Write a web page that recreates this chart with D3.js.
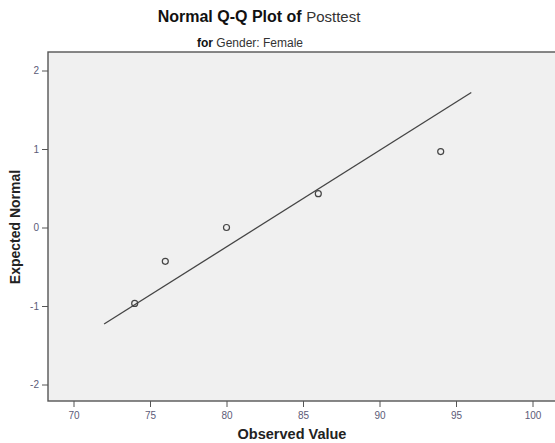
<!DOCTYPE html>
<html>
<head>
<meta charset="utf-8">
<script src="https://cdn.jsdelivr.net/npm/d3@7"></script>
<style>
  body { margin: 0; background: #fff; }
  text { font-family: "Liberation Sans", Arial, sans-serif; }
</style>
</head>
<body>
<script>
// observed posttest scores and their expected normal values
var observed = [74, 76, 80, 86, 94];
var expected = [-0.967, -0.431, 0, 0.431, 0.967];

// reference line end points
var lineX = [72, 96];
var lineY = [-1.23, 1.72];

var xTicks = [70, 75, 80, 85, 90, 95, 100];
var yTicks = [-2, -1, 0, 1, 2];

var W = 555, H = 443;
var frame = {left: 48, top: 52, right: 560, bottom: 401};

var svg = d3.select("body").append("svg")
    .attr("width", W)
    .attr("height", H);

// set the ranges
var x = d3.scaleLinear().domain([70, 100]).range([73.5, 532.5]);
var y = d3.scaleLinear().domain([-2, 2]).range([384.5, 70.5]);

// plot background
svg.append("rect")
    .attr("x", frame.left)
    .attr("y", frame.top)
    .attr("width", frame.right - frame.left)
    .attr("height", frame.bottom - frame.top)
    .attr("fill", "#f0f0f0")
    .attr("stroke", "#555")
    .attr("stroke-width", 1.4);

// reference line
svg.append("line")
    .attr("x1", x(lineX[0]))
    .attr("y1", y(lineY[0]))
    .attr("x2", x(lineX[1]))
    .attr("y2", y(lineY[1]))
    .attr("stroke", "#444")
    .attr("stroke-width", 1.3);

// points
svg.selectAll("circle.pt")
    .data(observed)
  .enter().append("circle")
    .attr("class", "pt")
    .attr("cx", function(d) { return x(d); })
    .attr("cy", function(d, i) { return y(expected[i]); })
    .attr("r", 3)
    .attr("fill", "none")
    .attr("stroke", "#444")
    .attr("stroke-width", 1.2);

var fmt = function(d) { return String(d); };

// x axis
var xAxis = svg.append("g")
    .attr("transform", "translate(0," + frame.bottom + ")")
    .call(d3.axisBottom(x).tickValues(xTicks).tickFormat(fmt).tickSize(6).tickPadding(5));
xAxis.select(".domain").remove();
xAxis.selectAll("line").attr("stroke", "#555");
xAxis.selectAll("text")
    .attr("fill", "#5b5b78")
    .style("font-size", "10px");

// y axis
var yAxis = svg.append("g")
    .attr("transform", "translate(" + frame.left + ",0)")
    .call(d3.axisLeft(y).tickValues(yTicks).tickFormat(fmt).tickSize(6).tickPadding(3));
yAxis.select(".domain").remove();
yAxis.selectAll("line").attr("stroke", "#555");
yAxis.selectAll("text")
    .attr("fill", "#5b5b78")
    .style("font-size", "10px");

// title
var title = svg.append("text")
    .attr("x", 259)
    .attr("y", 22)
    .attr("text-anchor", "middle")
    .attr("fill", "#111");
title.append("tspan").style("font-weight", "bold").style("font-size", "16px").text("Normal Q-Q Plot of ");
title.append("tspan").style("font-size", "15px").attr("fill", "#333").text("Posttest");

var sub = svg.append("text")
    .attr("x", 250)
    .attr("y", 47)
    .attr("text-anchor", "middle")
    .style("font-size", "12px")
    .attr("fill", "#111");
sub.append("tspan").style("font-weight", "bold").text("for ");
sub.append("tspan").attr("fill", "#333").text("Gender: Female");

// axis labels
svg.append("text")
    .attr("x", 292)
    .attr("y", 439)
    .attr("text-anchor", "middle")
    .style("font-size", "14.5px")
    .style("font-weight", "bold")
    .attr("fill", "#222")
    .text("Observed Value");

svg.append("text")
    .attr("transform", "translate(20,227) rotate(-90)")
    .attr("text-anchor", "middle")
    .style("font-size", "14px")
    .style("font-weight", "bold")
    .attr("fill", "#222")
    .text("Expected Normal");
</script>
</body>
</html>
